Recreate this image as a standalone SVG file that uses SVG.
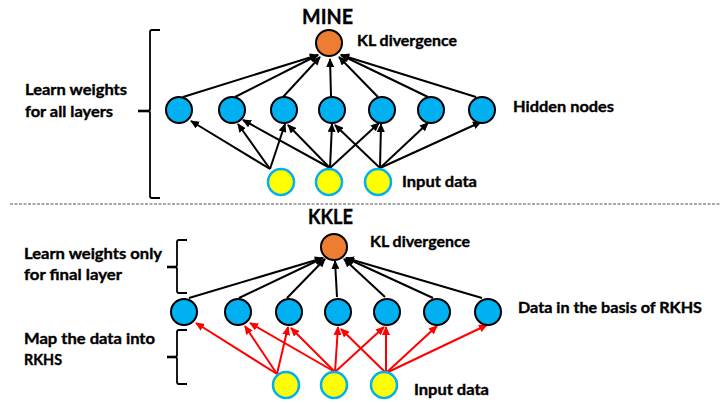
<svg xmlns="http://www.w3.org/2000/svg" width="727" height="403" viewBox="0 0 727 403">
<style>
  .t { font-family: Lato, "Open Sans", "Liberation Sans", sans-serif; font-weight: bold; fill: #000; stroke: #000; stroke-width: 0.35; }
  .title { font-size: 20.5px; }
  .lab { font-size: 14.5px; }
  .hid { fill: #00B0F0; stroke: #000; stroke-width: 2; }
  .kl { fill: #ED7D31; stroke: #000; stroke-width: 2; }
  .inp { fill: #FFFF00; stroke: #00B0F0; stroke-width: 2.5; }
  .eb { stroke: #000; stroke-width: 2; fill: none; marker-end: url(#ab); }
  .er { stroke: #FF0000; stroke-width: 2; fill: none; marker-end: url(#ar); }
  .br { stroke: #000; stroke-width: 1.8; fill: none; }
  .tick { stroke: #000; stroke-width: 2.6; fill: none; }
</style>
<defs>
  <marker id="ab" markerUnits="userSpaceOnUse" markerWidth="9" markerHeight="8" refX="8" refY="4" orient="auto">
    <path d="M0,0 L9,4 L0,8 z" fill="#000"/>
  </marker>
  <marker id="ar" markerUnits="userSpaceOnUse" markerWidth="9" markerHeight="8" refX="8" refY="4" orient="auto">
    <path d="M0,0 L9,4 L0,8 z" fill="#FF0000"/>
  </marker>
</defs>
<rect width="727" height="403" fill="#fff"/>

<!-- separator -->
<line x1="10" y1="204" x2="720" y2="204" stroke="#555" stroke-width="1" stroke-dasharray="3,1.5"/>

<!-- labels -->
<g id="labels">
  <text class="t title" x="302" y="24" textLength="51" lengthAdjust="spacingAndGlyphs">MINE</text>
  <text class="t lab" x="357" y="46" textLength="100" lengthAdjust="spacingAndGlyphs">KL divergence</text>
  <text class="t lab" x="513" y="112" textLength="101" lengthAdjust="spacingAndGlyphs">Hidden nodes</text>
  <text class="t lab" x="402" y="187" textLength="75" lengthAdjust="spacingAndGlyphs">Input data</text>
  <text class="t lab" x="25" y="95" textLength="102" lengthAdjust="spacingAndGlyphs">Learn weights</text>
  <text class="t lab" x="25" y="117" textLength="88" lengthAdjust="spacingAndGlyphs">for all layers</text>

  <text class="t title" x="308" y="224" textLength="45" lengthAdjust="spacingAndGlyphs">KKLE</text>
  <text class="t lab" x="370" y="247" textLength="100" lengthAdjust="spacingAndGlyphs">KL divergence</text>
  <text class="t lab" x="518" y="313" textLength="184" lengthAdjust="spacingAndGlyphs">Data in the basis of RKHS</text>
  <text class="t lab" x="414" y="395" textLength="75" lengthAdjust="spacingAndGlyphs">Input data</text>
  <text class="t lab" x="24" y="259" textLength="138" lengthAdjust="spacingAndGlyphs">Learn weights only</text>
  <text class="t lab" x="24" y="280" textLength="98" lengthAdjust="spacingAndGlyphs">for final layer</text>
  <text class="t lab" x="24" y="344" textLength="131" lengthAdjust="spacingAndGlyphs">Map the data into</text>
  <text class="t lab" x="24" y="365" textLength="38" lengthAdjust="spacingAndGlyphs">RKHS</text>
</g>

<!-- brackets -->
<g id="brackets">
  <path class="br" d="M160,30 L152,30 Q150,30 150,32 L150,109 Q150,111 148,111 M148,111 Q150,111 150,113 L150,196 Q150,198 152,198 L160,198"/>
  <line class="tick" x1="138" y1="111" x2="149" y2="111"/>
  <path class="br" d="M187,240 L179,240 Q177,240 177,242 L177,265 Q177,267 175,267 M175,267 Q177,267 177,269 L177,291 Q177,293 179,293 L187,293"/>
  <line class="tick" x1="167" y1="267" x2="176" y2="267"/>
  <path class="br" d="M187,330 L179,330 Q177,330 177,332 L177,355 Q177,357 175,357 M175,357 Q177,357 177,359 L177,382 Q177,384 179,384 L187,384"/>
  <line class="tick" x1="167" y1="357" x2="176" y2="357"/>
</g>

<!-- connectors -->
<g id="connectors">
  <!-- MINE hidden -> KL -->
  <line class="eb" x1="183" y1="97" x2="318" y2="55"/>
  <line class="eb" x1="235" y1="97" x2="318" y2="55"/>
  <line class="eb" x1="283" y1="97" x2="320" y2="57"/>
  <line class="eb" x1="331" y1="96" x2="330" y2="59"/>
  <line class="eb" x1="378" y1="97" x2="339" y2="57"/>
  <line class="eb" x1="428" y1="97" x2="341" y2="55"/>
  <line class="eb" x1="476" y1="97" x2="341" y2="55"/>
  <!-- MINE input -> hidden -->
  <line class="eb" x1="270" y1="169" x2="191" y2="121"/>
  <line class="eb" x1="270" y1="169" x2="238" y2="124"/>
  <line class="eb" x1="270" y1="169" x2="285" y2="124"/>
  <line class="eb" x1="330" y1="168" x2="243" y2="120"/>
  <line class="eb" x1="330" y1="168" x2="288" y2="125"/>
  <line class="eb" x1="330" y1="168" x2="332" y2="124"/>
  <line class="eb" x1="330" y1="168" x2="379" y2="123"/>
  <line class="eb" x1="380" y1="168" x2="335" y2="125"/>
  <line class="eb" x1="380" y1="168" x2="381" y2="124"/>
  <line class="eb" x1="380" y1="168" x2="428" y2="123"/>
  <line class="eb" x1="380" y1="168" x2="481" y2="122"/>
  <!-- KKLE hidden -> KL -->
  <line class="eb" x1="189" y1="298" x2="323" y2="258"/>
  <line class="eb" x1="239" y1="298" x2="323" y2="258"/>
  <line class="eb" x1="287" y1="298" x2="325" y2="259"/>
  <line class="eb" x1="337" y1="297" x2="335" y2="261"/>
  <line class="eb" x1="385" y1="297" x2="344" y2="259"/>
  <line class="eb" x1="433" y1="298" x2="346" y2="258"/>
  <line class="eb" x1="482" y1="298" x2="346" y2="258"/>
  <!-- KKLE input -> hidden (red) -->
  <line class="er" x1="277" y1="374" x2="196" y2="323"/>
  <line class="er" x1="277" y1="374" x2="245" y2="326"/>
  <line class="er" x1="277" y1="374" x2="288" y2="327"/>
  <line class="er" x1="335" y1="372" x2="250" y2="323"/>
  <line class="er" x1="335" y1="372" x2="291" y2="328"/>
  <line class="er" x1="335" y1="372" x2="338" y2="327"/>
  <line class="er" x1="335" y1="372" x2="384" y2="327"/>
  <line class="er" x1="386" y1="373" x2="341" y2="329"/>
  <line class="er" x1="386" y1="373" x2="386" y2="327"/>
  <line class="er" x1="386" y1="373" x2="437" y2="326"/>
  <line class="er" x1="386" y1="373" x2="487" y2="325"/>
</g>

<!-- MINE nodes -->
<g id="mine-kl"><circle class="kl" cx="329" cy="43" r="13"/></g>
<g id="mine-h1"><circle class="hid" cx="179" cy="110" r="13"/></g>
<g id="mine-h2"><circle class="hid" cx="232" cy="110" r="13"/></g>
<g id="mine-h3"><circle class="hid" cx="284" cy="110" r="13"/></g>
<g id="mine-h4"><circle class="hid" cx="332" cy="110" r="13"/></g>
<g id="mine-h5"><circle class="hid" cx="382" cy="110" r="13"/></g>
<g id="mine-h6"><circle class="hid" cx="431" cy="110" r="13"/></g>
<g id="mine-h7"><circle class="hid" cx="482" cy="110" r="13"/></g>
<g id="mine-i1"><circle class="inp" cx="281" cy="182" r="13"/></g>
<g id="mine-i2"><circle class="inp" cx="329" cy="182" r="13"/></g>
<g id="mine-i3"><circle class="inp" cx="378" cy="182" r="13"/></g>

<!-- KKLE nodes -->
<g id="kkle-kl"><circle class="kl" cx="334" cy="247" r="13"/></g>
<g id="kkle-h1"><circle class="hid" cx="184" cy="312" r="13"/></g>
<g id="kkle-h2"><circle class="hid" cx="238" cy="312" r="13"/></g>
<g id="kkle-h3"><circle class="hid" cx="289" cy="312" r="13"/></g>
<g id="kkle-h4"><circle class="hid" cx="338" cy="312" r="13"/></g>
<g id="kkle-h5"><circle class="hid" cx="387" cy="312" r="13"/></g>
<g id="kkle-h6"><circle class="hid" cx="437" cy="312" r="13"/></g>
<g id="kkle-h7"><circle class="hid" cx="488" cy="312" r="13"/></g>
<g id="kkle-i1"><circle class="inp" cx="286" cy="385" r="13"/></g>
<g id="kkle-i2"><circle class="inp" cx="334" cy="385" r="13"/></g>
<g id="kkle-i3"><circle class="inp" cx="384" cy="385" r="13"/></g>
</svg>
